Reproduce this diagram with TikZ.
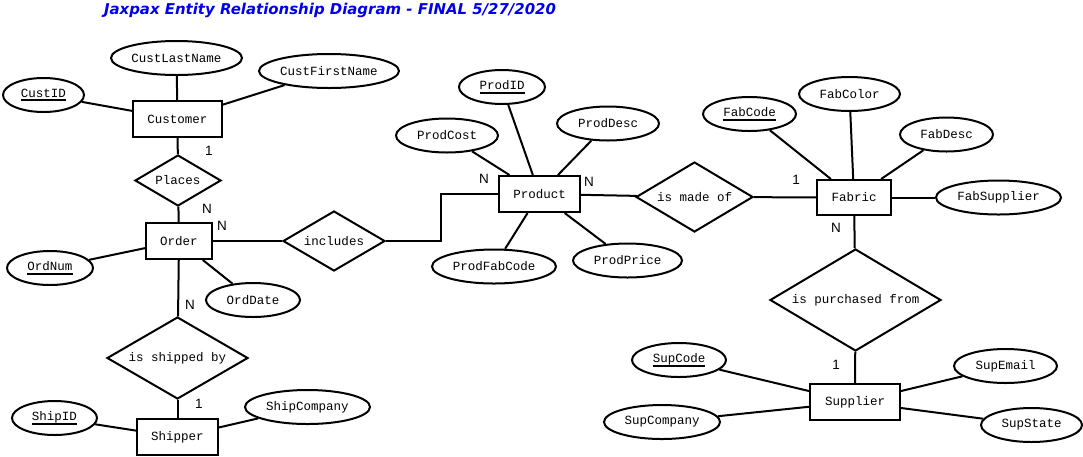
\documentclass[tikz,border=0pt]{standalone}
\usepackage{fontspec}
\setmainfont{Liberation Mono}
\newfontfamily\titlefont{DejaVu Sans}
\newfontfamily\labfont{Liberation Sans}
\usetikzlibrary{shapes.geometric}
\definecolor{titleblue}{RGB}{0,0,235}
\newcommand\keyattr[1]{\setbox0\hbox{#1}\rlap{\raisebox{-4pt}{\rule{\wd0}{2pt}}}\box0}
\tikzset{
  every picture/.style={line width=2pt},
  ent/.style={draw,rectangle,inner sep=0pt,minimum height=36pt,font=\fontsize{12.5}{14}\selectfont},
  attr/.style={draw,ellipse,inner sep=0pt,minimum height=34pt,font=\fontsize{12.5}{14}\selectfont},
  rel/.style={draw,diamond,inner sep=0pt,font=\fontsize{12.5}{14}\selectfont},
  card/.style={inner sep=0pt,font=\labfont\fontsize{13.5}{15}\selectfont},
}
\begin{document}
\begin{tikzpicture}[x=1pt,y=-1pt]
\useasboundingbox (0,0) rectangle (1083,456);
\node[inner sep=0pt,text=titleblue] (title) at (330,10) {\resizebox{452pt}{!}{\titlefont\bfseries\itshape Jaxpax Entity Relationship Diagram - FINAL 5/27/2020}};

% entities
\node[ent,minimum width=89pt] (cust) at (177.5,119) {Customer};
\node[ent,minimum width=66pt] (ord) at (179,241) {Order};
\node[ent,minimum width=81pt] (ship) at (177.5,437) {Shipper};
\node[ent,minimum width=81pt] (prod) at (539.5,194) {Product};
\node[ent,minimum width=74pt,minimum height=35pt] (fab) at (854,197.5) {Fabric};
\node[ent,minimum width=90pt] (sup) at (855,402) {Supplier};

% relationships
\node[rel,aspect=1.69,minimum width=86pt,minimum height=51pt] (places) at (178,180.5) {Places};
\node[rel,aspect=1.7,minimum width=102pt,minimum height=60pt] (incl) at (334,241) {includes};
\node[rel,aspect=1.72,minimum width=141pt,minimum height=82pt] (shipby) at (177.5,358) {is shipped by};
\node[rel,aspect=1.67,minimum width=117pt,minimum height=70pt] (made) at (694.5,197) {is made of};
\node[rel,aspect=1.68,minimum width=171pt,minimum height=102pt] (purch) at (855.5,300) {is purchased from};

% attributes
\node[attr,minimum width=81pt] (custid) at (43.5,95) {\keyattr{CustID}};
\node[attr,minimum width=131pt] (custln) at (176.5,58) {CustLastName};
\node[attr,minimum width=140pt] (custfn) at (329,71) {CustFirstName};
\node[attr,minimum width=86pt] (ordnum) at (50,268) {\keyattr{OrdNum}};
\node[attr,minimum width=94pt] (orddate) at (253,300) {OrdDate};
\node[attr,minimum width=85pt] (shipid) at (54.5,418) {\keyattr{ShipID}};
\node[attr,minimum width=125pt] (shipco) at (307.5,407) {ShipCompany};
\node[attr,minimum width=86pt] (prodid) at (502,87) {\keyattr{ProdID}};
\node[attr,minimum width=102pt] (prodcost) at (447,135.5) {ProdCost};
\node[attr,minimum width=102pt] (proddesc) at (608,123.5) {ProdDesc};
\node[attr,minimum width=124pt] (prodfab) at (494,266.5) {ProdFabCode};
\node[attr,minimum width=109pt] (prodprice) at (627.5,260.5) {ProdPrice};
\node[attr,minimum width=93pt] (fabcode) at (749.5,114) {\keyattr{FabCode}};
\node[attr,minimum width=101pt] (fabcolor) at (849.5,94) {FabColor};
\node[attr,minimum width=93pt] (fabdesc) at (946.5,134.5) {FabDesc};
\node[attr,minimum width=125pt] (fabsup) at (998.5,197.5) {FabSupplier};
\node[attr,minimum width=94pt] (supcode) at (679,360) {\keyattr{SupCode}};
\node[attr,minimum width=116pt] (supco) at (662,422) {SupCompany};
\node[attr,minimum width=103pt] (supemail) at (1005.5,366) {SupEmail};
\node[attr,minimum width=101pt] (supstate) at (1031.5,425) {SupState};

% attribute links
\foreach \a/\e in {custid/cust,custln/cust,custfn/cust,ordnum/ord,orddate/ord,
  shipid/ship,shipco/ship,prodid/prod,prodcost/prod,proddesc/prod,prodfab/prod,
  prodprice/prod,fabcode/fab,fabcolor/fab,fabdesc/fab,fabsup/fab,supcode/sup,
  supco/sup,supemail/sup,supstate/sup}
  \draw (\a) -- (\e);

% relationship links
\draw (cust) -- (places);
\draw (places) -- (ord);
\draw (ord) -- (incl);
\coordinate (bend) at (441,241);
\draw (incl) -- (bend) |- (prod);
\draw (ord) -- (shipby);
\draw (shipby) -- (ship);
\draw (prod) -- (made);
\draw (made) -- (fab);
\draw (fab) -- (purch);
\draw (purch) -- (sup);

% cardinalities
\node[card] (c1) at (209,151) {1};
\node[card] (c2) at (207,209) {N};
\node[card] (c3) at (222,226) {N};
\node[card] (c4) at (190,305) {N};
\node[card] (c5) at (199,404) {1};
\node[card] (c6) at (484,179) {N};
\node[card] (c7) at (589,182) {N};
\node[card] (c8) at (796,180) {1};
\node[card] (c9) at (836,228) {N};
\node[card] (c10) at (836,365) {1};
\end{tikzpicture}
\end{document}
